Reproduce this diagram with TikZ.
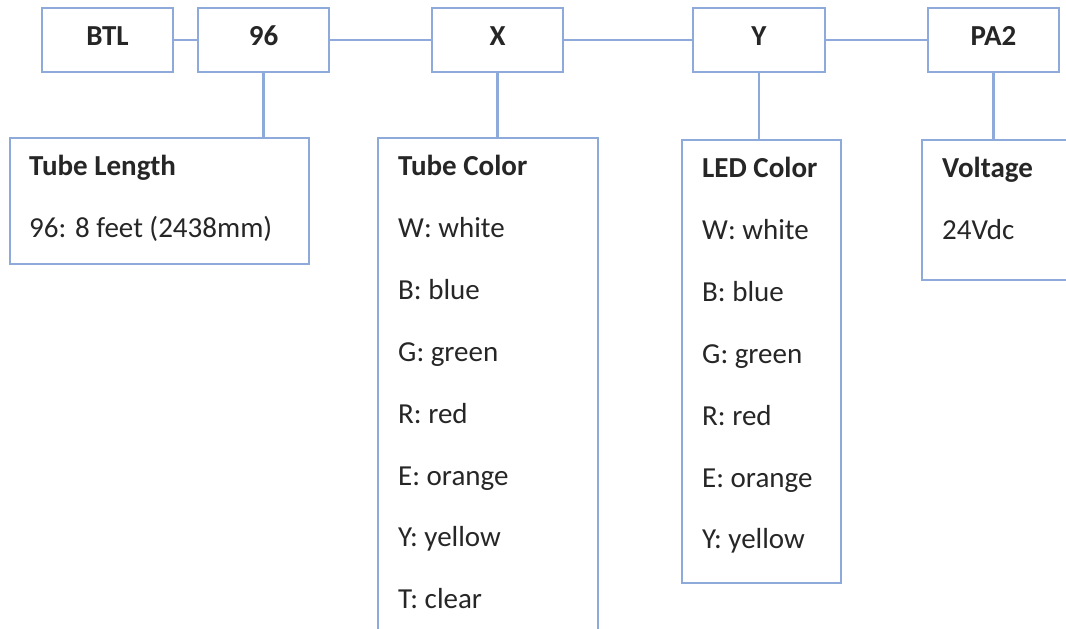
\documentclass[tikz,border=0pt]{standalone}
\usepackage{fontspec}
\setmainfont{Carlito}
\definecolor{boxline}{RGB}{142,170,219}
\definecolor{txt}{RGB}{38,38,38}
\begin{document}
\begin{tikzpicture}[x=1pt,y=-1pt,
  every node/.style={text=txt,font=\fontsize{29}{34}\selectfont},
  hdr/.style={draw=boxline,line width=2.4pt,fill=white,minimum height=64pt,inner sep=0pt},
  hdrtext/.style={anchor=base,inner sep=0pt,font=\fontsize{29}{34}\selectfont\bfseries},
  detail/.style={draw=boxline,line width=2.4pt,inner sep=0pt},
  title/.style={anchor=base west,inner sep=0pt,font=\fontsize{29}{34}\selectfont\bfseries},
  item/.style={anchor=base west,inner sep=0pt},
  conn/.style={draw=boxline,line width=2.4pt}]
\useasboundingbox (0,0) rectangle (1066,629);
\clip (0,0) rectangle (1066,629);
% header boxes
\node[hdr,minimum width=131pt] (btl) at (107.5,40) {};
\node[hdrtext] (btlt) at (107.5,45) {BTL};
\node[hdr,minimum width=131pt] (n96) at (263.5,40) {};
\node[hdrtext] (n96t) at (263.5,45) {96};
\node[hdr,minimum width=131pt] (nx) at (497.5,40) {};
\node[hdrtext] (nxt) at (497.5,45) {X};
\node[hdr,minimum width=132pt] (ny) at (759,40) {};
\node[hdrtext] (nyt) at (759,45) {Y};
\node[hdr,minimum width=131pt] (pa) at (993.5,40) {};
\node[hdrtext] (pat) at (993.5,45) {PA2};
% detail boxes
\node[detail,minimum width=299pt,minimum height=126pt] (tl) at (159.5,201) {};
\node[detail,minimum width=220pt,minimum height=500pt] (tc) at (488,388) {};
\node[detail,minimum width=159pt,minimum height=443pt] (lc) at (761.5,361.5) {};
\node[detail,minimum width=200pt,minimum height=140pt] (vo) at (1022,210) {};
% connectors
\draw[conn] (btl.east) -- (n96.west);
\draw[conn] (n96.east) -- (nx.west);
\draw[conn] (nx.east) -- (ny.west);
\draw[conn] (ny.east) -- (pa.west);
\draw[conn] (n96.south) -- (n96.south |- tl.north);
\draw[conn] (nx.south) -- (nx.south |- tc.north);
\draw[conn] (ny.south) -- (ny.south |- lc.north);
\draw[conn] (pa.south) -- (pa.south |- vo.north);
% texts
\node[title] (tlh) at (29,175) {Tube Length};
\node[item] (tl1) at (29,237) {96: 8 feet (2438mm)};
\node[title] (tch) at (398,175) {Tube Color};
\node[item] (tc1) at (398,237) {W: white};
\node[item] (tc2) at (398,299) {B: blue};
\node[item] (tc3) at (398,361) {G: green};
\node[item] (tc4) at (398,423) {R: red};
\node[item] (tc5) at (398,485) {E: orange};
\node[item] (tc6) at (398,546) {Y: yellow};
\node[item] (tc7) at (398,608) {T: clear};
\node[title] (lch) at (702,177) {LED Color};
\node[item] (lc1) at (702,239) {W: white};
\node[item] (lc2) at (702,301) {B: blue};
\node[item] (lc3) at (702,363) {G: green};
\node[item] (lc4) at (702,425) {R: red};
\node[item] (lc5) at (702,487) {E: orange};
\node[item] (lc6) at (702,548) {Y: yellow};
\node[title] (voh) at (942,177) {Voltage};
\node[item] (vo1) at (942,239) {24Vdc};
\end{tikzpicture}
\end{document}
